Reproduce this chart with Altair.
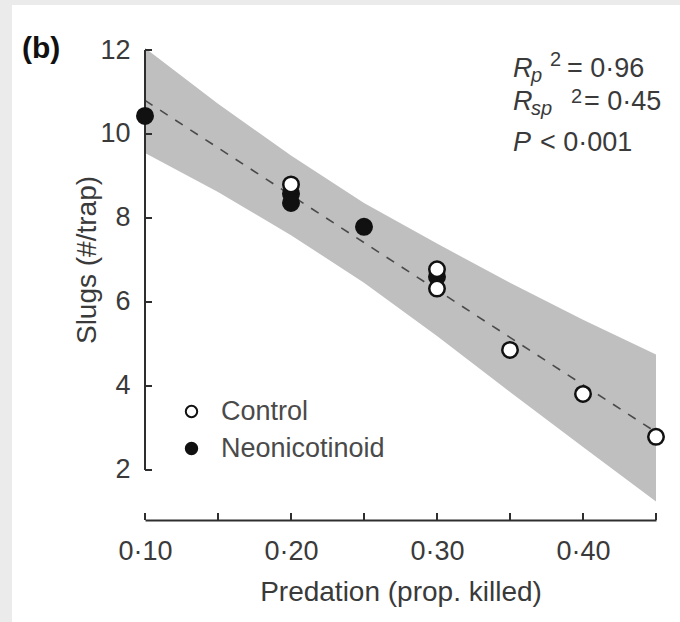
import altair as alt
import pandas as pd

# ---- data ----
ctrl_x = [0.20, 0.30, 0.30, 0.35, 0.40, 0.45]
ctrl_y = [8.80, 6.78, 6.32, 4.86, 3.81, 2.79]
neo_x = [0.10, 0.20, 0.20, 0.25, 0.30]
neo_y = [10.43, 8.58, 8.36, 7.79, 6.60]

fit_x = [0.10, 0.45]
fit_y = [10.80, 2.90]

band_x = [0.10, 0.15, 0.20, 0.25, 0.30, 0.35, 0.40, 0.45]
band_hi = [12.05, 10.72, 9.49, 8.36, 7.39, 6.46, 5.58, 4.75]
band_lo = [9.55, 8.62, 7.59, 6.46, 5.19, 3.86, 2.55, 1.25]

x_tick_values = [0.10, 0.15, 0.20, 0.25, 0.30, 0.35, 0.40, 0.45]
x_label_values = [0.10, 0.20, 0.30, 0.40]
y_tick_values = [2, 4, 6, 8, 10, 12]

groups = ["Control", "Neonicotinoid"]

W, H = 511, 470
FONT = "Liberation Sans"
FS = 27
TXT = "#3a3a3a"
AX = "#2e2e2e"

xscale = alt.Scale(domain=[0.10, 0.45], nice=False, zero=False)
yscale = alt.Scale(domain=[0.8095, 12], nice=False, zero=False)

pts = pd.DataFrame({
    "x": neo_x + ctrl_x,
    "y": neo_y + ctrl_y,
    "grp": ["Neonicotinoid"] * len(neo_x) + ["Control"] * len(ctrl_x),
})
fit = pd.DataFrame({"x": fit_x, "y": fit_y})
band = pd.DataFrame({"x": band_x, "hi": band_hi, "lo": band_lo})
xt = pd.DataFrame({"x": x_tick_values})
yt = pd.DataFrame({"y": y_tick_values})
yline = pd.DataFrame({"y": [min(y_tick_values)], "y2": [max(y_tick_values)]})
one = pd.DataFrame({"a": [0]})

xaxis = alt.Axis(
    values=x_label_values, ticks=False, grid=False,
    domainColor=AX, domainWidth=2, labelFlush=False,
    labelExpr="replace(format(datum.value, '.2f'), '.', '·')",
    labelFont=FONT, labelFontSize=FS, labelColor=TXT, labelPadding=18,
    title="Predation (prop. killed)", titleFont=FONT, titleFontSize=28,
    titleFontWeight="normal", titleColor=TXT, titlePadding=14, zindex=1,
)
yaxis = alt.Axis(
    values=y_tick_values, ticks=False, grid=False, domain=False,
    labelFont=FONT, labelFontSize=FS, labelColor=TXT, labelPadding=15,
    labelFlush=False, format="d", title=None, zindex=1,
)

band_layer = alt.Chart(band).mark_area(color="#bfbfbf", opacity=1).encode(
    x=alt.X("x:Q", scale=xscale, axis=xaxis),
    y=alt.Y("hi:Q", scale=yscale, axis=yaxis),
    y2="lo:Q",
)

fit_layer = alt.Chart(fit).mark_line(
    color="#4a4a4a", strokeWidth=1.6, strokeDash=[9, 9]
).encode(
    x=alt.X("x:Q", scale=xscale, axis=xaxis),
    y=alt.Y("y:Q", scale=yscale, axis=yaxis),
)

pt_layer = alt.Chart(pts).mark_point(
    shape="circle", filled=True, stroke="#111111", strokeWidth=2.5,
    size=240, opacity=1,
).encode(
    x=alt.X("x:Q", scale=xscale, axis=xaxis),
    y=alt.Y("y:Q", scale=yscale, axis=yaxis),
    fill=alt.Fill(
        "grp:N",
        scale=alt.Scale(domain=groups, range=["#ffffff", "#111111"]),
        legend=alt.Legend(
            title=None, orient="none", legendX=33, legendY=348,
            labelFont=FONT, labelFontSize=FS, labelColor="#4a4a4a",
            labelLimit=0,
            symbolType="circle", symbolSize=130, symbolStrokeWidth=2,
            symbolStrokeColor="#111111", labelOffset=16, rowPadding=9,
            padding=0, zindex=1,
        ),
    ),
)

xtick_layer = alt.Chart(xt).mark_rule(color=AX, strokeWidth=2).encode(
    x=alt.X("x:Q", scale=xscale, axis=xaxis),
    y=alt.value(H),
    y2=alt.value(H - 7),
)
ytick_layer = alt.Chart(yt).mark_rule(color=AX, strokeWidth=2).encode(
    y=alt.Y("y:Q", scale=yscale, axis=yaxis),
    x=alt.value(0),
    x2=alt.value(7),
)
yline_layer = alt.Chart(yline).mark_rule(color=AX, strokeWidth=2).encode(
    y=alt.Y("y:Q", scale=yscale, axis=yaxis),
    y2="y2:Q",
    x=alt.value(0),
)


def txt(s, x, y, size=FS, style="normal", weight="normal", color=TXT,
        angle=0, align="left", baseline="alphabetic"):
    return alt.Chart(one).mark_text(
        text=s, font=FONT, fontSize=size, fontStyle=style, fontWeight=weight,
        color=color, angle=angle, align=align, baseline=baseline,
    ).encode(x=alt.value(x), y=alt.value(y))


SUB = 20
texts = [
    txt("(b)", -123, 8, size=30, weight="bold", color="#111111"),
    txt("Slugs (#/trap)", -57, 210, size=28, angle=270, align="center",
        baseline="middle"),
    # R_p^2 = 0·96
    txt("R", 368, 27, style="italic"),
    txt("p", 386, 32, size=SUB, style="italic"),
    txt("2", 405, 16, size=SUB),
    txt("= 0·96", 422, 27),
    # R_sp^2 = 0·45
    txt("R", 368, 60, style="italic"),
    txt("sp", 386, 65, size=SUB, style="italic"),
    txt("2", 426, 53, size=SUB),
    txt("= 0·45", 439, 60),
    # P < 0·001
    txt("P", 368, 101, style="italic"),
    txt("< 0·001", 395, 101),
]

frame = [
    alt.Chart(one).mark_rect(color="#ebebeb").encode(
        x=alt.value(-145), x2=alt.value(W + 24), y=alt.value(-50), y2=alt.value(-45)),
    alt.Chart(one).mark_rect(color="#ebebeb").encode(
        x=alt.value(-145), x2=alt.value(-133), y=alt.value(-50), y2=alt.value(H + 102)),
]

chart = alt.layer(
    *frame, band_layer, fit_layer, yline_layer, ytick_layer, xtick_layer,
    pt_layer, *texts,
).properties(
    width=W, height=H,
    autosize=alt.AutoSizeParams(type="none"),
    padding={"left": 145, "top": 50, "right": 24, "bottom": 102},
    background="white",
).configure_view(stroke=None)

chart.save("out.html", embed_options={"renderer": "svg", "actions": False})
